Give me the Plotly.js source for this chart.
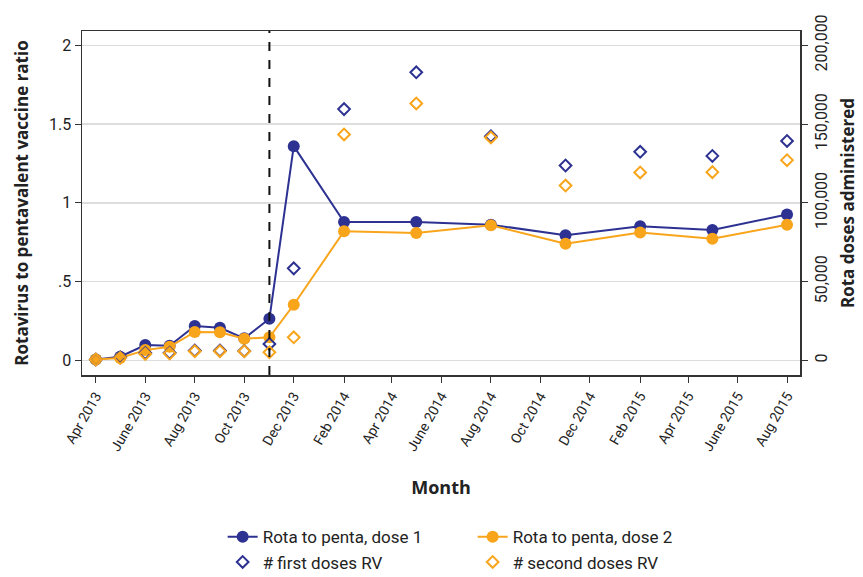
<!DOCTYPE html>
<html>
<head>
<meta charset="utf-8">
<script src="https://cdn.plot.ly/plotly-3.0.1.min.js"></script>
<style>html,body{margin:0;padding:0;background:#fff}#chart{width:863px;height:577px}</style>
</head>
<body>
<div id="chart"></div>
<script>
// Months with observations
const months = ['2013-04-01','2013-05-01','2013-06-01','2013-07-01','2013-08-01','2013-09-01','2013-10-01','2013-11-01',
                '2013-12-01','2014-02-01','2014-05-01','2014-08-01','2014-11-01','2015-02-01','2015-05-01','2015-08-01'];
// Ratio rotavirus to pentavalent vaccine
const ratioDose1 = [0.006,0.023,0.097,0.093,0.218,0.207,0.140,0.264,1.36,0.878,0.878,0.861,0.795,0.852,0.827,0.926];
const ratioDose2 = [0.006,0.015,0.065,0.086,0.180,0.178,0.137,0.146,0.353,0.820,0.808,0.857,0.740,0.812,0.772,0.861];
// Rota doses administered
const firstDoses  = [500,2000,4600,4800,6200,6200,6000,10400,58400,159500,182900,142300,123700,132400,129800,139300];
const secondDoses = [500,1500,4000,4300,5800,5800,5800,5100,14600,143400,163100,141500,111000,119300,119500,127100];
// Intervention (rotavirus introduction)
const introMonth = '2013-11-01';
// Tick labels
const xTickVals = ['2013-04-01','2013-06-01','2013-08-01','2013-10-01','2013-12-01','2014-02-01','2014-04-01','2014-06-01',
                   '2014-08-01','2014-10-01','2014-12-01','2015-02-01','2015-04-01','2015-06-01','2015-08-01'];
const xTickText = ['Apr 2013','June 2013','Aug 2013','Oct 2013','Dec 2013','Feb 2014','Apr 2014','June 2014',
                   'Aug 2014','Oct 2014','Dec 2014','Feb 2015','Apr 2015','June 2015','Aug 2015'];
const yTickVals = [0,0.5,1,1.5,2];
const yTickText = ['0','.5','1','1.5','2'];
const y2TickVals = [0,50000,100000,150000,200000];

const BLUE = '#2c3192';
const ORANGE = '#f9a51b';
const FONT = 'Roboto, "Open Sans", sans-serif';
const TFONT = '"Open Sans", sans-serif';

const traces = [
  {x: months, y: ratioDose1, name: 'Rota to penta, dose 1', type: 'scatter', mode: 'lines+markers',
   line: {color: BLUE, width: 2}, marker: {color: BLUE, size: 12}},
  {x: months, y: ratioDose2, name: 'Rota to penta, dose 2', type: 'scatter', mode: 'lines+markers',
   line: {color: ORANGE, width: 2}, marker: {color: ORANGE, size: 12}},
  {x: months, y: firstDoses, name: '# first doses RV', type: 'scatter', mode: 'markers', yaxis: 'y2',
   marker: {symbol: 'diamond-open', color: BLUE, size: 9, line: {width: 2, color: BLUE}}},
  {x: months, y: secondDoses, name: '# second doses RV', type: 'scatter', mode: 'markers', yaxis: 'y2',
   marker: {symbol: 'diamond-open', color: ORANGE, size: 9, line: {width: 2, color: ORANGE}}}
];

const layout = {
  width: 863, height: 577,
  margin: {l: 82, r: 63, t: 31, b: 202, autoexpand: false},
  paper_bgcolor: '#fff', plot_bgcolor: '#fff',
  font: {family: FONT, size: 15, color: '#222'},
  showlegend: true,
  legend: {orientation: 'h', x: 0.258, xref: 'container', xanchor: 'left', y: 0.1, yref: 'container', yanchor: 'top',
           entrywidth: 205, font: {size: 17, family: FONT, color: '#222'}, traceorder: 'normal'},
  xaxis: {type: 'date', range: ['2013-03-15','2015-08-17'], tickvals: xTickVals, ticktext: xTickText,
          tickangle: -60, ticks: 'outside', ticklen: 6, tickcolor: '#333', showgrid: false, zeroline: false,
          showline: true, linecolor: '#333', linewidth: 1.5, mirror: true, automargin: false,
          tickfont: {size: 14, family: FONT},
          title: {text: '<b>Month</b>', font: {size: 18, family: TFONT}, standoff: 28}},
  yaxis: {range: [-0.093, 2.091], tickvals: yTickVals, ticktext: yTickText, ticks: 'outside', ticklen: 6,
          tickcolor: '#333', showgrid: true, gridcolor: '#dddddd', gridwidth: 1.5, zeroline: false, automargin: false,
          showline: true, linecolor: '#333', linewidth: 1.5, tickfont: {size: 16, family: FONT},
          title: {text: '<b>Rotavirus to pentavalent vaccine ratio</b>', font: {size: 17, family: TFONT}, standoff: 16}},
  yaxis2: {overlaying: 'y', side: 'right', range: [-9300, 209100], tickvals: y2TickVals, tickformat: ',',
           tickangle: -90, ticks: 'outside', ticklen: 6, tickcolor: '#333', showgrid: false, zeroline: false, automargin: false,
           showline: true, linecolor: '#333', linewidth: 1.5, tickfont: {size: 16, family: FONT},
           title: {text: '<b>Rota doses administered</b>', font: {size: 17, family: TFONT}, standoff: 12}},
  shapes: [{type: 'line', xref: 'x', yref: 'paper', x0: introMonth, x1: introMonth, y0: 0, y1: 1,
            line: {color: '#111', width: 2, dash: 'dash'}}]
};

Plotly.newPlot('chart', traces, layout, {displayModeBar: false, staticPlot: true});
</script>
</body>
</html>
